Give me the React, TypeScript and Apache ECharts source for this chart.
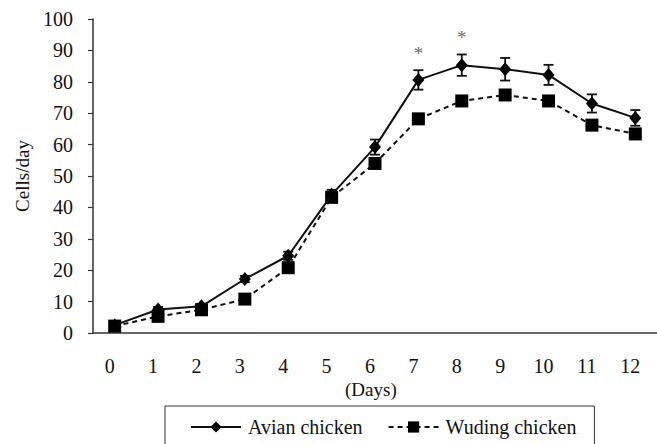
import React, { useEffect, useRef } from "react";
import * as echarts from "echarts";

const days = ["0", "1", "2", "3", "4", "5", "6", "7", "8", "9", "10", "11", "12"];
const avian = [2.5, 7.5, 8.5, 17.2, 24.6, 44, 59.2, 80.6, 85.3, 84.0, 82.2, 73.1, 68.5];
const avianErr = [0.5, 0.8, 0.8, 1.0, 1.3, 1.6, 2.4, 3.1, 3.4, 3.6, 3.2, 2.9, 2.5];
const wuding = [2.2, 5.3, 7.4, 10.8, 20.8, 43.2, 54.0, 68.2, 73.9, 75.8, 73.9, 66.2, 63.4];
const starDays = [7, 8];
const starValues = [89, 94];
const yTicks = { min: 0, max: 100, interval: 10 };

const FONT = "Liberation Serif";
const INK = "#111";

export default function App() {
  const ref = useRef<HTMLDivElement>(null);
  useEffect(() => {
    const chart = echarts.init(ref.current!, undefined, { renderer: "svg" });
    const errData = days.map((_, i) => [i, avian[i] - avianErr[i], avian[i] + avianErr[i]]);
    chart.setOption({
      animation: false,
      backgroundColor: "#fff",
      textStyle: { fontFamily: FONT, color: INK },
      grid: { left: 93, top: 19, bottom: 111, right: -8, containLabel: false },
      xAxis: {
        type: "category",
        data: days,
        boundaryGap: true,
        axisLine: { lineStyle: { color: "#333", width: 1.5 } },
        axisTick: { inside: true, length: 5, lineStyle: { color: "#333", width: 1.2 } },
        axisLabel: { fontSize: 20, color: INK, margin: 23, fontFamily: FONT, padding: [0, 10, 0, 0] },
        splitLine: { show: false },
      },
      yAxis: {
        type: "value",
        min: yTicks.min,
        max: yTicks.max,
        interval: yTicks.interval,
        name: "Cells/day",
        nameLocation: "middle",
        nameGap: 58,
        nameRotate: 90,
        nameTextStyle: { fontSize: 19, color: INK, fontFamily: FONT },
        axisLine: { show: true, lineStyle: { color: "#333", width: 1.5 } },
        axisTick: { show: true, inside: false, length: 5, lineStyle: { color: "#333", width: 1.2 } },
        axisLabel: { fontSize: 20, color: INK, margin: 20, fontFamily: FONT },
        splitLine: { show: false },
      },
      legend: {
        data: ["Avian chicken", "Wuding chicken"],
        left: 165,
        top: 406,
        orient: "horizontal",
        itemWidth: 50,
        itemHeight: 14,
        itemGap: 25,
        padding: [11, 18, 30, 25],
        borderColor: "#333",
        borderWidth: 1,
        textStyle: { fontSize: 20, color: INK, fontFamily: FONT, padding: [0, 0, 0, 2] },
      },
      graphic: [
        {
          type: "text",
          left: 345,
          top: 380,
          style: { text: "(Days)", fontSize: 19, fill: INK, fontFamily: FONT },
        },
      ],
      series: [
        {
          type: "custom",
          name: "err",
          z: 3,
          data: errData,
          renderItem: (params: any, api: any) => {
            const x = api.value(0);
            const lo = api.coord([x, api.value(1)]);
            const hi = api.coord([x, api.value(2)]);
            const hw = 5;
            const style = { stroke: "#111", lineWidth: 1.8 };
            return {
              type: "group",
              children: [
                { type: "line", shape: { x1: lo[0], y1: lo[1], x2: hi[0], y2: hi[1] }, style },
                { type: "line", shape: { x1: lo[0] - hw, y1: lo[1], x2: lo[0] + hw, y2: lo[1] }, style },
                { type: "line", shape: { x1: hi[0] - hw, y1: hi[1], x2: hi[0] + hw, y2: hi[1] }, style },
              ],
            };
          },
        },
        {
          type: "line",
          name: "Wuding chicken",
          data: wuding,
          z: 4,
          symbol: "rect",
          symbolSize: 13,
          showAllSymbol: true,
          itemStyle: { color: "#000" },
          lineStyle: { color: "#111", width: 2, type: [5, 4] },
        },
        {
          type: "line",
          name: "Avian chicken",
          data: avian,
          z: 5,
          symbol: "diamond",
          symbolSize: [12, 14],
          showAllSymbol: true,
          itemStyle: { color: "#000" },
          lineStyle: { color: "#111", width: 2 },
        },
        {
          type: "scatter",
          name: "sig",
          data: starDays.map((d, i) => [d, starValues[i]]),
          symbolSize: 0,
          label: {
            show: true,
            position: "inside",
            formatter: "*",
            fontSize: 19,
            color: "#444",
            fontFamily: FONT,
          },
        },
      ],
    });
    return () => chart.dispose();
  }, []);
  return (
    <div
      ref={ref}
      style={{ position: "fixed", left: 0, top: 0, width: 657, height: 444, background: "#fff" }}
    />
  );
}
